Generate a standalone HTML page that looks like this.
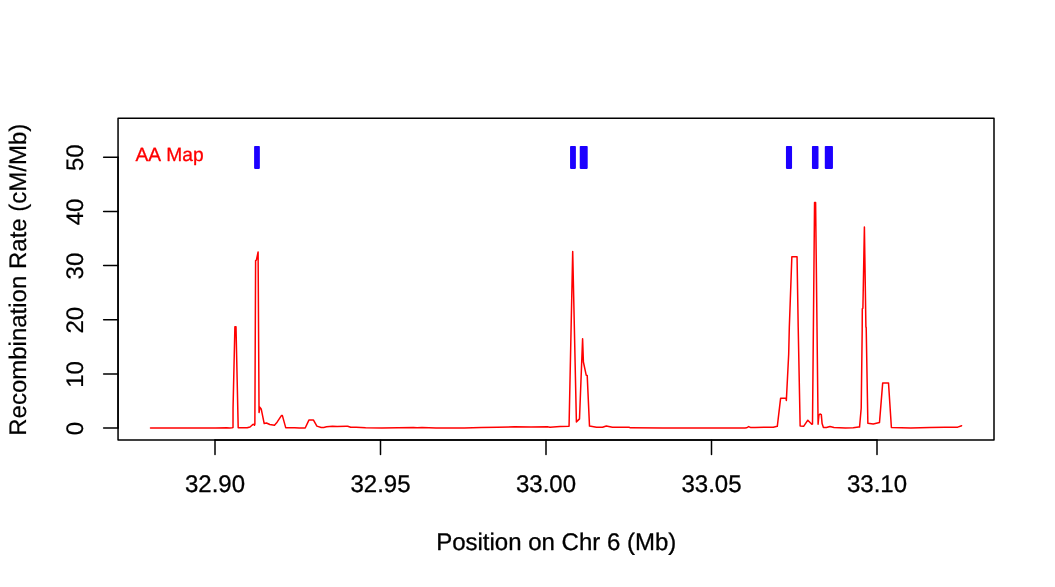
<!DOCTYPE html>
<html lang="en">
<head>
<meta charset="utf-8">
<title>Recombination Rate - AA Map</title>
<style>
html,body{margin:0;padding:0;background:#fff;}
body{width:1055px;height:587px;overflow:hidden;}
svg{display:block;font-family:"Liberation Sans",sans-serif;text-rendering:geometricPrecision;font-kerning:none;}
</style>
</head>
<body>
<svg width="1055" height="587" viewBox="0 0 1055 587">
<rect width="1055" height="587" fill="#fff"/>
<rect x="118.05" y="118.2" width="875.95" height="321.80" fill="none" stroke="#000" stroke-width="1.5" stroke-linejoin="round"/>
<g stroke="#000" stroke-width="1.5" stroke-linecap="round" fill="none">
<path d="M215.0 440.0H877.0"/>
<path d="M215.0 440.0v14.4"/>
<path d="M380.5 440.0v14.4"/>
<path d="M546.0 440.0v14.4"/>
<path d="M711.5 440.0v14.4"/>
<path d="M877.0 440.0v14.4"/>
<path d="M118.05 428.08V157.20"/>
<path d="M118.05 428.08h-14.4"/>
<path d="M118.05 373.90h-14.4"/>
<path d="M118.05 319.73h-14.4"/>
<path d="M118.05 265.55h-14.4"/>
<path d="M118.05 211.38h-14.4"/>
<path d="M118.05 157.20h-14.4"/>
</g>
<g font-size="24" fill="#000" text-anchor="middle">
<g stroke="#000" stroke-width="0.3" stroke-linejoin="round">
<text x="215.0" y="491.65">32.90</text>
<text x="380.5" y="491.65">32.95</text>
<text x="546.0" y="491.65">33.00</text>
<text x="711.5" y="491.65">33.05</text>
<text x="877.0" y="491.65">33.10</text>
<text x="556.2" y="549.6">Position on Chr 6 (Mb)</text>
</g>
<g stroke="#000" stroke-width="0.2" stroke-linejoin="round">
<text transform="translate(82.9 428.58) rotate(-90)">0</text>
<text transform="translate(82.9 374.40) rotate(-90)">10</text>
<text transform="translate(82.9 320.23) rotate(-90)">20</text>
<text transform="translate(82.9 266.05) rotate(-90)">30</text>
<text transform="translate(82.9 211.88) rotate(-90)">40</text>
<text transform="translate(82.9 157.70) rotate(-90)">50</text>
<text transform="translate(25.55 279.75) rotate(-90)">Recombination Rate (cM/Mb)</text>
</g>
</g>
<polyline points="150.5,428.05 183.8,427.95 187.8,428.05 215.6,428.05 226.6,427.75 229.6,428.05 232.1,427.75 233.0,427.6 233.05,408.3 234.9,326.7 236.0,326.7 238.2,427.65 247.2,427.75 250.0,427.0 251.7,425.5 253.0,424.4 254.2,424.2 254.5,425.2 254.87,424 255.6,260.6 256.4,260.2 258.1,252 259.05,412.6 259.85,407.3 261.2,408.9 264.2,423.56 266.5,423 269.8,424.55 274.46,425.2 277.1,422.2 281.4,415.6 282.4,415.6 285.7,427.65 294.6,427.65 299.3,428.05 305.2,427.95 308.9,420.1 313.5,420.1 316.9,426.1 321.2,427.45 323.8,427.45 326.5,426.85 332.5,426.2 337.1,426.45 346.4,426.2 347.7,426.2 350.7,427.3 356.2,427.25 365.6,427.85 381.8,428.0 398,427.85 413.4,427.5 417,427.85 422,427.6 436,427.9 448.3,428.0 464.2,428.05 481.2,427.6 497.4,427.3 514.5,426.85 531,426.9 547.3,426.85 550,427.2 560,426.6 568.9,426.3 569.06,426.2 572.7,251.4 576.4,421.9 579.5,418.9 582.6,338.7 583.4,362 586.2,375.2 587.2,375.4 589.5,426.1 596.5,427.3 602.5,427.3 606.3,426.0 612.4,427.2 629,427.25 630.5,427.85 663,427.95 696.5,427.95 730,427.95 745,427.9 746.5,427.8 748.7,426.6 750.8,427.6 755,427.4 773.3,427.3 777.3,426.3 780.6,398.3 786.0,398.3 786.35,400.5 788.7,354 789.3,328 791.85,256.7 797.05,256.7 798.2,327 800.15,425.9 803.8,426.2 807.8,420.2 811.8,424.2 812.5,424 814.55,202.6 815.6,202.6 818.1,424.2 818.9,415.2 820.0,414 821.3,414.6 822.1,423.6 823.4,427.4 826.4,427.5 830,426.5 834,427.5 845.3,428.05 853.2,427.7 858.6,427.1 859.55,427.1 861.2,408.3 862.2,330 862.3,308.8 862.9,308.2 864.4,227 865.9,327 866.2,327.5 867.86,423.2 873.2,423.9 879.5,422.4 882.7,382.9 888.5,382.9 891.4,427.5 910.9,428.05 929.8,427.6 944.7,427.15 957.7,427.15 961.6,425.7" fill="none" stroke="#ff0000" stroke-width="1.5" stroke-linejoin="round" stroke-linecap="round"/>
<rect x="254.1" y="146.0" width="5.75" height="22.90" rx="0.8" fill="#1c00ff"/>
<rect x="570.05" y="146.0" width="5.85" height="22.90" rx="0.8" fill="#1c00ff"/>
<rect x="579.75" y="146.0" width="7.95" height="22.90" rx="0.8" fill="#1c00ff"/>
<rect x="785.95" y="146.0" width="6.10" height="22.90" rx="0.8" fill="#1c00ff"/>
<rect x="811.95" y="146.0" width="6.55" height="22.90" rx="0.8" fill="#1c00ff"/>
<rect x="824.8" y="146.0" width="8.15" height="22.90" rx="0.8" fill="#1c00ff"/>
<text x="135.4" y="160.55" font-size="19.2" fill="#ff0000" stroke="#ff0000" stroke-width="0.3" stroke-linejoin="round">AA Map</text>
</svg>
</body>
</html>
